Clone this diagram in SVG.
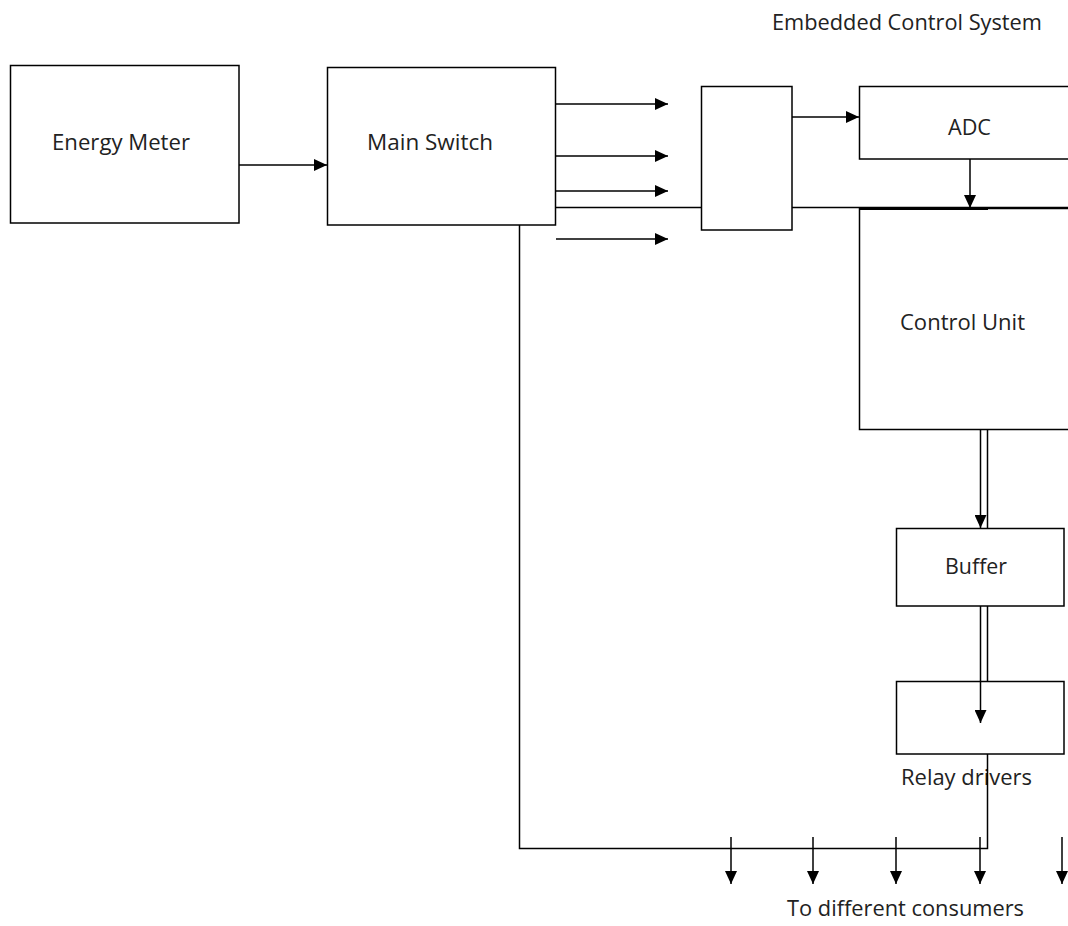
<svg xmlns="http://www.w3.org/2000/svg" width="1068" height="926" viewBox="0 0 1068 926">
<defs>
<marker id="ah" markerUnits="userSpaceOnUse" markerWidth="13" markerHeight="12" refX="13" refY="6" orient="auto">
<path d="M0,0 L13,6 L0,12 z" fill="#000"/>
</marker>
<style>
.box{fill:#fff;stroke:#000;stroke-width:1.5}
.ln{fill:none;stroke:#000;stroke-width:1.5}
.ar{fill:none;stroke:#000;stroke-width:1.5;marker-end:url(#ah)}
.t{font-family:"Open Sans","Noto Sans",sans-serif;font-size:21px;fill:#222}
</style>
</defs>
<rect width="1068" height="926" fill="#fff"/>
<text class="t" x="772" y="30" textLength="270" lengthAdjust="spacingAndGlyphs">Embedded Control System</text>
<g id="energy-meter">
<rect class="box" x="10.5" y="65.5" width="228.5" height="157.5"/>
<text class="t" x="52" y="150" textLength="138" lengthAdjust="spacingAndGlyphs">Energy Meter</text>
</g>
<g id="main-switch">
<rect class="box" x="327.5" y="67.5" width="228" height="157.5"/>
<text class="t" x="367" y="150" textLength="126" lengthAdjust="spacingAndGlyphs">Main Switch</text>
</g>
<g id="junction">
<rect class="box" x="701.5" y="86.5" width="90.5" height="143.5"/>
</g>
<g id="adc">
<rect class="box" x="859.5" y="86.5" width="220" height="72.5"/>
<text class="t" x="948" y="135" textLength="43" lengthAdjust="spacingAndGlyphs">ADC</text>
</g>
<g id="control-unit">
<rect class="box" x="859.5" y="208.5" width="220" height="221"/>
<text class="t" x="900" y="330" textLength="125" lengthAdjust="spacingAndGlyphs">Control Unit</text>
</g>
<g id="buffer">
<rect class="box" x="896.5" y="528.5" width="167.5" height="77.5"/>
<text class="t" x="945" y="574" textLength="62" lengthAdjust="spacingAndGlyphs">Buffer</text>
</g>
<g id="relay-drivers">
<rect class="box" x="896.5" y="681.5" width="167.5" height="72.5"/>
<text class="t" x="901" y="785" textLength="131" lengthAdjust="spacingAndGlyphs">Relay drivers</text>
</g>
<text class="t" x="787" y="916" textLength="237" lengthAdjust="spacingAndGlyphs">To different consumers</text>
<g id="connectors">
<line class="ar" x1="239" y1="165" x2="327" y2="165"/>
<line class="ar" x1="556" y1="104" x2="668" y2="104"/>
<line class="ar" x1="556" y1="156" x2="668" y2="156"/>
<line class="ar" x1="556" y1="191" x2="668" y2="191"/>
<line class="ar" x1="556" y1="239" x2="668" y2="239"/>
<line class="ln" x1="556" y1="207.5" x2="701" y2="207.5"/>
<line class="ln" x1="792" y1="207.5" x2="1068" y2="207.5"/>
<line x1="859" y1="208.5" x2="988" y2="208.5" stroke="#000" stroke-width="3"/>
<line class="ar" x1="792" y1="117" x2="859" y2="117"/>
<line class="ar" x1="970" y1="159" x2="970" y2="208"/>
<line class="ar" x1="980.5" y1="430" x2="980.5" y2="528"/>
<line class="ln" x1="987.5" y1="430" x2="987.5" y2="528"/>
<line class="ln" x1="987.5" y1="606" x2="987.5" y2="681"/>
<line class="ar" x1="980.5" y1="606" x2="980.5" y2="723"/>
<polyline class="ln" points="519.5,225 519.5,848.5 987.5,848.5 987.5,754"/>
<line class="ar" x1="731" y1="837" x2="731" y2="884"/>
<line class="ar" x1="813" y1="837" x2="813" y2="884"/>
<line class="ar" x1="896" y1="837" x2="896" y2="884"/>
<line class="ar" x1="980" y1="837" x2="980" y2="884"/>
<line class="ar" x1="1062" y1="837" x2="1062" y2="884"/>
</g>
</svg>
